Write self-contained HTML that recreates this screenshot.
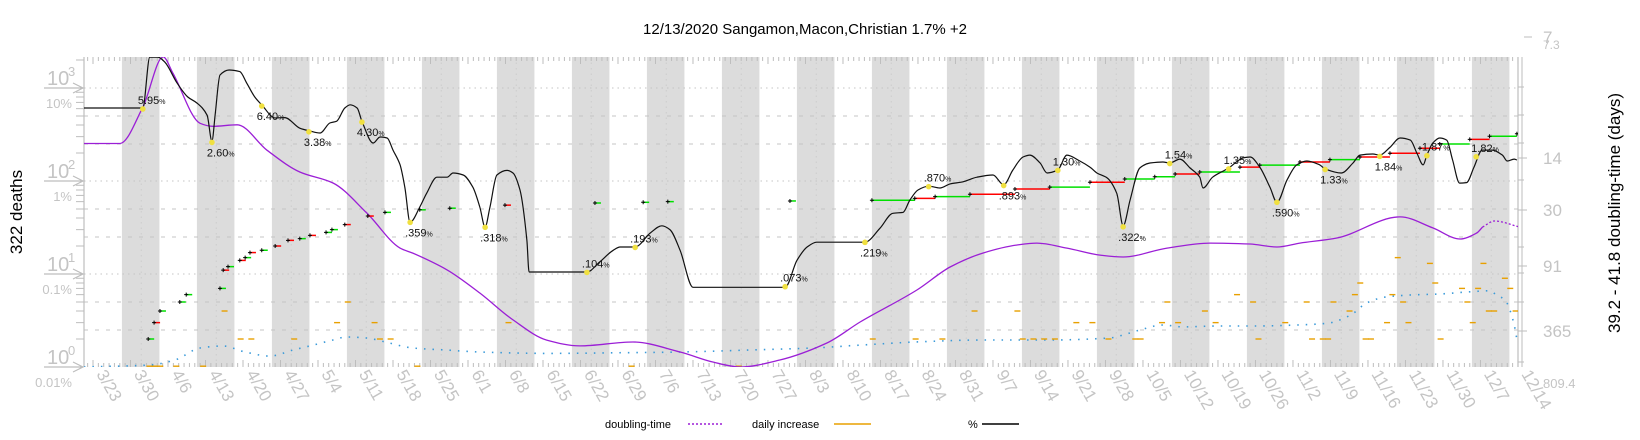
<!DOCTYPE html>
<html><head><meta charset="utf-8"><style>
html,body{margin:0;padding:0;background:#fff;}
svg{display:block;font-family:"Liberation Sans","DejaVu Sans",sans-serif;}
</style></head><body>
<svg id="chart" width="1640" height="440" viewBox="0 0 1640 440" xmlns="http://www.w3.org/2000/svg">
<text x="805" y="34" font-size="15" text-anchor="middle" fill="#000">12/13/2020 Sangamon,Macon,Christian 1.7% +2</text>
<text transform="translate(22,212) rotate(-90)" font-size="17" text-anchor="middle" fill="#000">322 deaths</text>
<text transform="translate(1620,213) rotate(-90)" font-size="17" text-anchor="middle" fill="#000">39.2 - 41.8 doubling-time (days)</text>
<g id="bands"></g>
<g id="grid"></g>
<g id="axes"></g>
<g id="series"></g>
<g id="legend">
  <text x="605" y="428" font-size="11" fill="#000">doubling-time</text>
  <line x1="688" y1="424" x2="722" y2="424" stroke="#9b1fd6" stroke-width="1.5" stroke-dasharray="2 2"/>
  <text x="752" y="428" font-size="11" fill="#000">daily increase</text>
  <line x1="834" y1="424" x2="871" y2="424" stroke="#e8a000" stroke-width="1.5"/>
  <text x="968" y="428" font-size="11" fill="#000">%</text>
  <line x1="982" y1="424" x2="1019" y2="424" stroke="#000" stroke-width="1.5"/>
</g>
</svg>
<script>
// ---- data ----
const dateLabels = ['3/23','3/30','4/6','4/13','4/20','4/27','5/4','5/11','5/18','5/25','6/1','6/8','6/15','6/22','6/29','7/6','7/13','7/20','7/27','8/3','8/10','8/17','8/24','8/31','9/7','9/14','9/21','9/28','10/5','10/12','10/19','10/26','11/2','11/9','11/16','11/23','11/30','12/7','12/14'];
const pctDays = [-1.7,9.3,10.6,12.1,13.4,15.7,17.7,19.4,21.3,22.2,22.8,23.7,25.4,27.4,28.7,30.2,31.5,34,35.8,38.6,40.5,42.4,44.2,45.5,47,48,49.3,50.2,52.3,53.6,54.9,56,57.3,58.2,59.2,61,62.3,64.2,66.1,67.2,69.1,70.9,72.2,73.2,74.1,75.4,77.3,78.4,79.7,81,81.4,92.2,94.6,97.1,98.4,101.2,104,106.2,107.7,109.6,112,129.2,131.4,133.3,135.1,144.1,146.9,149.3,151.2,152.5,154,156,158.1,160,162.4,165,168,170,171.7,173.6,174.9,176.8,178.1,180.1,181.8,184.2,186.1,187.4,189.3,191.1,192.3,193.6,195.4,197.3,199.7,201,202.9,204.8,206.6,207.2,209,211.3,212,214.7,216,217.8,219.7,221,222.9,224.7,226.6,229,230,233,235.2,236.5,238.9,240.2,242.1,244,245.9,247.2,248.3,249,250.1,251.4,252.7,253.8,255.1,256.4,257.8,259.3,261.2,263.1,264,265.3,265.8];
const pctValues = [6.1,6.1,21.5,21.5,19,11.3,8.0,6.9,5.1,2.69,5.1,13.8,15.6,15,11.3,8.0,6.6,4.76,4.8,3.7,3.45,3.28,4.2,4.4,6.1,6.6,6.1,4.4,2.56,2.97,2.9,2.15,1.5,0.86,0.36,0.525,0.74,1.10,1.10,1.22,1.16,0.86,0.525,0.32,0.525,1.16,1.3,1.22,0.80,0.23,0.105,0.105,0.135,0.18,0.195,0.195,0.275,0.33,0.30,0.18,0.072,0.072,0.14,0.195,0.22,0.22,0.31,0.45,0.46,0.625,0.80,0.88,0.84,0.93,0.98,1.10,1.16,0.91,1.31,1.81,1.9,1.56,1.22,1.31,1.9,1.64,1.41,1.22,1.08,0.74,0.33,0.625,1.38,1.56,1.6,1.56,1.72,1.38,1.10,0.84,1.10,1.31,1.38,1.77,1.81,1.41,0.86,0.59,1.03,1.49,1.64,1.49,1.35,1.22,1.56,1.9,1.95,1.9,2.3,2.9,2.75,1.95,1.49,1.9,2.56,2.9,2.75,1.68,0.95,0.96,1.41,2.15,2.15,1.9,1.64,1.72,1.68];
const markDays = [9.3,22.2,31.5,40.3,50.2,59.2,73.2,92.2,101.2,129.2,144.1,156,170,180.1,192.3,201,212,221,230,240.2,249,258.2];
const markValues = [5.95,2.60,6.40,3.38,4.30,0.359,0.318,0.104,0.193,0.073,0.219,0.870,0.893,1.30,0.322,1.54,1.35,0.590,1.33,1.84,1.87,1.82];
const markTexts = ['5.95','2.60','6.40','3.38','4.30','.359','.318','.104','.193','.073','.219','.870','.893','1.30','.322','1.54','1.35','.590','1.33','1.84','1.87','1.82'];
const markSide = ['a','b','b','b','b','b','b','a','a','a','b','a','b','a','b','a','a','b','b','b','a','a'];
const dtDays = [-1.7,5,9.3,13.1,14.9,20,22.4,26.9,32.5,38.6,44.8,51.1,57.3,59.7,66.1,72.2,78.4,84.7,90.9,100.8,109.6,115.7,120.8,128.2,137,143.2,153.8,160,166.1,172.5,176.2,181.8,188,192.3,200.5,208.5,216,221,225.3,232.2,244,250.1,255.2,258.3,259.4,261.6,266.3];
const dtValues = [12.9,12.9,10.5,7.9,8.65,11.5,11.7,11.6,13.4,17.2,20.2,31.8,63.8,70.5,99,162,288,446,508,466,581,725,809,693,476,301,152,93,70.5,60,57.8,63.8,73.3,76.2,63.8,57.8,58.9,62.5,57.8,52.2,34.4,42.8,53.3,47.3,42,37.3,42];
const dtProjectedFromDay = 259.4;
const cumDays = [10.3,11.4,12.5,16.2,17.4,23.7,24.3,25.2,27.4,28.4,29.3,31.5,34,36.4,38.6,40.5,43.5,44.6,47,51.3,54.5,61,66.6,76.9,93.7,102.7,107.3,130.1,145.4,153.4,157.2,163.7,172.1,178.6,186.1,192.6,198.2,202,206.6,214.1,217.8,225.3,230.9,236.5,242.1,247.7,251.4,257,260.7,265.8];
const cumDeaths = [2,3,4,5,6,7,11,12,14,15,17,18,20,23,24,26,28,30,34,42,46,49,51,55,58,59,60,61,62,65,68,72,82,86,97,105,111,119,125,141,148,160,170,181,199,225,250,280,303,322];
const dailyDays = [10,11,12,15,20,24,27,29,37,45,47,52,53,55,60,77,100,120,145,153,158,164,172,173,175,177,179,183,186,189,194,195,199,200,202,207,209,213,216,217,222,226,227,229,230,231,234,235,236,237,238,241,242,243,244,245,249,250,251,255,256,257,258,259,260,261,263,264,265,266];
const dailyValues = [1,1,1,1,1,4,2,2,2,3,5,3,2,2,1,3,1,1,2,2,2,4,4,2,2,2,2,3,3,2,2,2,3,5,3,4,3,6,5,2,3,5,2,2,2,5,4,6,8,2,2,3,6,15,5,3,13,8,2,7,5,3,7,13,4,4,9,7,4,2];
const avgDays = [-1.7,10.6,15.3,20,24.3,28.4,33,37.3,41.1,44.8,47.4,51.1,54.5,59.7,66.1,72.2,84.7,97.1,109.6,122,134.4,143.2,153.8,166.1,178.6,189.8,192.3,195.4,199.7,203.5,209.8,217.3,224.8,230.4,234.7,237.8,241.2,245.8,251.4,256.4,260.7,262,263.6,264.5,265.5,265.8];
const avgValues = [1,1.05,1.19,1.6,1.68,1.45,1.31,1.52,1.72,1.95,2.1,2.05,1.86,1.6,1.52,1.45,1.4,1.42,1.45,1.52,1.6,1.72,1.86,1.95,1.95,2.05,2.21,2.5,2.83,2.7,2.76,2.76,2.83,2.95,3.6,4.9,5.65,5.95,6.1,6.4,6.6,5.95,5.25,4.1,2.5,1.95];
const leftDecades = ['0','1','2','3'];
const pctTickLabels = ['0.01%','0.1%','1%','10%'];
const rightTickValues = [7.3,14,30,91,365,809.4];

// ---- scales ----
const X0 = 93, PXD = 5.357, TOP = 57, BOT = 367, LEFT = 84, RIGHT = 1518, DEC = 93;
const xd = d => X0 + d * PXD;
const yL = v => BOT - DEC * Math.log10(v);
const yP = p => yL(p * 100);
const rPos = [43,158,210,266,331,367];
function yR(t){
  const lt = Math.log10(t), lv = rightTickValues.map(Math.log10);
  let i = 0; while (i < lv.length - 2 && lt > lv[i+1]) i++;
  return rPos[i] + (lt - lv[i]) / (lv[i+1] - lv[i]) * (rPos[i+1] - rPos[i]);
}
const NS = 'http://www.w3.org/2000/svg';
function mk(tag, attrs, parent){
  const e = document.createElementNS(NS, tag);
  for (const k in attrs) e.setAttribute(k, attrs[k]);
  parent.appendChild(e); return e;
}
function smoothPath(px, py){
  const n = px.length; if (n < 2) return '';
  const m = [];
  for (let i = 0; i < n - 1; i++) m.push((py[i+1]-py[i]) / ((px[i+1]-px[i]) || 1e-6));
  const t = [m[0]];
  for (let i = 1; i < n - 1; i++) t.push(m[i-1]*m[i] > 0 ? 2/(1/m[i-1]+1/m[i]) : 0);
  t.push(m[n-2]);
  let d = 'M' + px[0].toFixed(1) + ',' + py[0].toFixed(1);
  for (let i = 0; i < n - 1; i++){
    const dx = (px[i+1]-px[i]) / 3;
    d += ' C' + (px[i]+dx).toFixed(1) + ',' + (py[i]+t[i]*dx).toFixed(1) + ' ' + (px[i+1]-dx).toFixed(1) + ',' + (py[i+1]-t[i+1]*dx).toFixed(1) + ' ' + px[i+1].toFixed(1) + ',' + py[i+1].toFixed(1);
  }
  return d;
}
const svg = document.getElementById('chart');
const defs = mk('defs', {}, svg);
const cp = mk('clipPath', {id: 'plotclip'}, defs);
mk('rect', {x: LEFT, y: TOP, width: RIGHT - LEFT, height: BOT - TOP}, cp);

// bands
const bands = document.getElementById('bands');
for (let k = 0; k < 19; k++){
  const b = mk('rect', {x: xd(5.4 + 14*k), y: TOP, width: 7*PXD, height: BOT - TOP, fill: '#dcdcdc'}, bands);
  
  
}
// grid
const grid = document.getElementById('grid');
for (let dk = 0; dk < 4; dk++){
  const yb = yL(Math.pow(10, dk));
  [0, 28, 56].forEach((off, j) => {
    const y = yb + off; if (y > BOT - 1 || y < TOP) return;
    const g = mk('line', {x1: LEFT, x2: RIGHT, y1: y, y2: y, stroke: '#c4c4c4', 'stroke-width': 0.9, 'stroke-dasharray': j === 0 ? '1.5 4' : '4 7'}, grid);
    
    
  });
}
for (let d = 9; d < 266; d += 14){
  const g = mk('line', {x1: xd(d), x2: xd(d), y1: TOP, y2: BOT, stroke: '#c8c8c8', 'stroke-width': 0.8, 'stroke-dasharray': '1.5 4'}, grid);
  
  
}
// axes
const axes = document.getElementById('axes');
const AX = '#bdbdbd';
mk('line', {x1: LEFT, x2: LEFT, y1: TOP, y2: BOT, stroke: AX, 'stroke-width': 1.2}, axes);
mk('line', {x1: RIGHT, x2: RIGHT, y1: TOP, y2: BOT, stroke: AX, 'stroke-width': 1.2}, axes);
mk('line', {x1: RIGHT+4, x2: RIGHT+4, y1: TOP, y2: BOT, stroke: AX, 'stroke-width': 1}, axes);
for (let d = -1; d <= 266; d++){
  const x = xd(d), wk = d % 7 === 0, L = wk ? 7 : 4;
  mk('line', {x1: x, x2: x, y1: BOT, y2: BOT - L, stroke: AX, 'stroke-width': 1}, axes);
  mk('line', {x1: x, x2: x, y1: TOP, y2: TOP + L, stroke: AX, 'stroke-width': 1}, axes);
}
dateLabels.forEach((s, i) => {
  const x = xd(i * 7);
  const t = mk('text', {x: 0, y: 0, transform: 'translate(' + (x + 3) + ',' + (BOT + 7) + ') rotate(60)', 'font-size': 17, fill: '#c4c4c4'}, axes);
  t.textContent = s;
  
  
});
leftDecades.forEach((e, i) => {
  const y = yL(Math.pow(10, i));
  for (let k = 2; k <= 9 && i < 3; k++){
    const yy = yL(k * Math.pow(10, i)); if (yy < TOP) continue;
    mk('line', {x1: LEFT - 8, x2: LEFT, y1: yy, y2: yy, stroke: AX, 'stroke-width': 1}, axes);
  }
  if (i === 3) mk('line', {x1: LEFT - 8, x2: LEFT, y1: yL(2000), y2: yL(2000), stroke: AX}, axes);
  mk('path', {d: 'M44,' + y + ' L83,' + y + ' M73,' + (y-5) + ' L83,' + y + ' L73,' + (y+5), stroke: AX, 'stroke-width': 1.2, fill: 'none'}, axes);
  const t = mk('text', {x: 47, y: y - 3, 'font-size': 20, fill: '#c4c4c4'}, axes);
  t.textContent = '10';
  
  
  const s = mk('text', {x: 68, y: y - 12, 'font-size': 13, fill: '#c4c4c4'}, axes);
  s.textContent = e;
  const p = mk('text', {x: 72, y: y + 20, 'font-size': 13, fill: '#c4c4c4', 'text-anchor': 'end'}, axes);
  p.textContent = pctTickLabels[i];
  
  
});
rightTickValues.forEach((v, i) => {
  const y = yR(v);
  if (i > 0 && i < 5) mk('line', {x1: RIGHT, x2: RIGHT + 9, y1: y, y2: y, stroke: AX}, axes);
  const t = mk('text', {x: 1543, y: i === 5 ? 388 : y + 6, 'font-size': i === 5 ? 13 : (i === 0 ? 12 : 17), fill: '#c4c4c4'}, axes);
  t.textContent = i === 0 ? '7.3' : String(v);
  
  
});
mk('line', {x1: 1524, x2: 1532, y1: 37, y2: 37, stroke: AX}, axes);
const t7 = mk('text', {x: 1543, y: 43, 'font-size': 17, fill: '#c4c4c4'}, axes); t7.textContent = '7';
[87,115,143,180,247,273,302,362].forEach(y => mk('line', {x1: RIGHT, x2: RIGHT + 6, y1: y, y2: y, stroke: AX}, axes));

// series
const ser = document.getElementById('series');
const gclip = mk('g', {'clip-path': 'url(#plotclip)'}, ser);
const avgLine = mk('path', {d: smoothPath(avgDays.map(xd), avgValues.map(yL)), fill: 'none', stroke: '#3a9ad9', 'stroke-width': 1.6, 'stroke-dasharray': '1.5 7'}, gclip);


dailyDays.forEach((d, i) => {
  const y = Math.min(yL(dailyValues[i]), BOT - 0.8);
  const l = mk('line', {x1: xd(d), x2: xd(d) + 6, y1: y, y2: y, stroke: '#e8a000', 'stroke-width': 1.4}, gclip);
  
  
});
const dtSolidIdx = dtDays.findIndex(d => d >= dtProjectedFromDay);
const dtx = dtDays.map(xd), dty = dtValues.map(yR);
const dtp1 = mk('path', {d: smoothPath(dtx.slice(0, dtSolidIdx + 1), dty.slice(0, dtSolidIdx + 1)), fill: 'none', stroke: '#9b1fd6', 'stroke-width': 1.3}, gclip);


const dtp2 = mk('path', {d: smoothPath(dtx.slice(dtSolidIdx), dty.slice(dtSolidIdx)), fill: 'none', stroke: '#9b1fd6', 'stroke-width': 1.3, 'stroke-dasharray': '2 2'}, gclip);


cumDays.forEach((d, i) => {
  const x = xd(d), y = yL(cumDeaths[i]);
  const connect = i < cumDays.length - 1 && d > 140;
  const nx = connect ? xd(cumDays[i+1]) : x + 6;
  const inc = i > 0 ? cumDeaths[i] / cumDeaths[i-1] : 1;
  const prevInc = i > 1 ? cumDeaths[i-1] / cumDeaths[i-2] : 1;
  const seg = mk('line', {x1: x, x2: nx, y1: y, y2: y, stroke: inc > prevInc ? '#ff0000' : '#00e000', 'stroke-width': 1.5}, gclip);
  
  
  mk('path', {d: 'M' + (x-2) + ',' + y + 'h4M' + x + ',' + (y-2) + 'v4', stroke: '#000', 'stroke-width': 1}, gclip);
});
const pl = mk('path', {d: smoothPath(pctDays.map(xd), pctValues.map(yP)), fill: 'none', stroke: '#111', 'stroke-width': 1.2}, gclip);


markDays.forEach((d, i) => {
  const x = xd(d), y = yP(markValues[i]);
  const c = mk('circle', {cx: x, cy: y, r: 2.8, fill: '#f0e040'}, ser);
  
  
  const ty = markSide[i] === 'a' ? y - 5 : y + 14;
  const t = mk('text', {x: x - 5, y: ty, 'font-size': 11, fill: '#111'}, ser);
  t.textContent = markTexts[i];
  const ts = mk('tspan', {'font-size': 7}, t); ts.textContent = '%';
  
  
});
</script>
</body></html>
